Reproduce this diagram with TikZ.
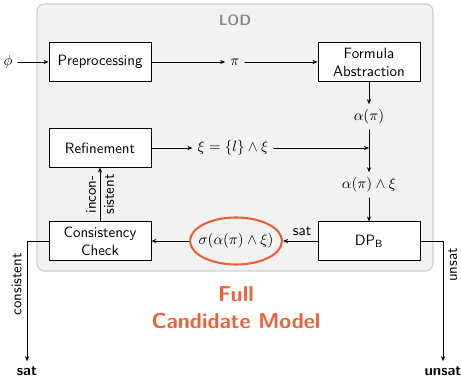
\documentclass[tikz,border=0pt]{standalone}
\usepackage{tikz}
\usetikzlibrary{arrows.meta,positioning,calc,shapes.geometric}
\definecolor{lodfill}{HTML}{F2F2F2}
\definecolor{lodline}{HTML}{CFCFCF}
\definecolor{lodtext}{HTML}{8C8C8C}
\definecolor{fullorange}{HTML}{EE6035}

\begin{document}
\begin{tikzpicture}[x=0.67pt, y=-0.67pt, >={Stealth[length=3.4pt,width=2.8pt]}, line cap=round, line join=round, font=\sffamily,
  blk/.style={draw, line width=0.6pt, fill=white, minimum width=68.3pt, minimum height=25.6pt, align=center, inner sep=1pt},
  flow/.style={->, line width=0.5pt}]
\useasboundingbox (0,0) rectangle (461,378);

% LOD frame
\draw[lodline, fill=lodfill, rounded corners=5pt, line width=0.8pt] (37,4) rectangle (433,271);
\node[lodtext, font=\sffamily\bfseries] (lod) at (235,20) {LOD};

% blocks
\node[blk] (pre) at (100,62) {Preprocessing};
\node[blk] (fa) at (369,62) {Formula\\Abstraction};
\node[blk] (ref) at (100,148) {Refinement};
\node[blk] (cc) at (100,241) {Consistency\\Check};
\node[blk] (dp) at (369,241) {DP$_{\mathsf{B}}$};

% formulas
\node (phi) at (8,62) {$\phi$};
\node (pi) at (235,62) {$\pi$};
\node (al) at (369,117) {$\alpha(\pi)$};
\node (xi) at (233,148) {$\xi = \{l\} \wedge \xi$};
\node (alxi) at (369,185) {$\alpha(\pi) \wedge \xi$};
\node[ellipse, draw=fullorange, line width=1.4pt, minimum width=61.6pt, minimum height=31.5pt, inner xsep=-4pt, inner ysep=0pt] (sigma) at (236,241) {$\sigma(\alpha(\pi) \wedge \xi)$};

% outputs
\node[font=\sffamily\bfseries] (sat) at (27,371) {sat};
\node[font=\sffamily\bfseries] (unsat) at (443,371) {unsat};
\node[fullorange, font=\sffamily\bfseries\Large, align=center] (full) at (236,308) {Full\\Candidate Model};

% connectors
\draw[flow] (phi) -- (pre);
\draw[flow] (pre) -- (pi);
\draw[flow] (pi) -- (pi -| fa.west);
\draw[flow] (fa) -- (al);
\draw[flow] (al) -- (alxi);
\draw[flow] (ref) -- (xi);
\draw[flow] (xi) -- (xi -| alxi);
\draw[flow] (alxi) -- (dp);
\draw[flow] (dp) -- node[above, pos=0.45] {sat} (sigma);
\draw[flow] (sigma) -- (cc);
\draw[flow] (cc) -- node[rotate=90, align=center, inner sep=1pt] {incon-\\sistent} (ref);
\draw[flow] (cc.west) -| node[pos=0.68, rotate=90, anchor=south] {consistent} (sat.north);
\draw[flow] (dp.east) -| node[pos=0.6, rotate=90, anchor=north] {unsat} (unsat.north);

\end{tikzpicture}
\end{document}
